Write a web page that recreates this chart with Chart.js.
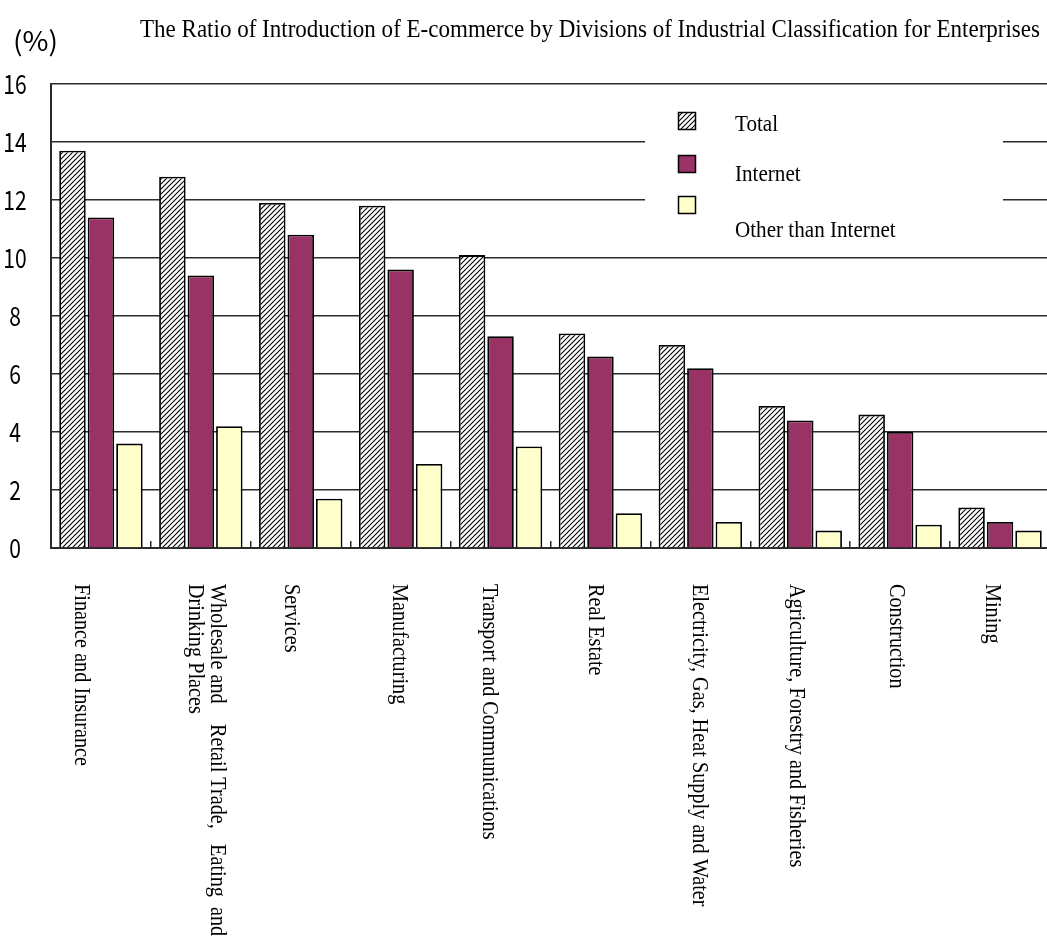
<!DOCTYPE html>
<html>
<head>
<meta charset="utf-8">
<script src="https://cdn.jsdelivr.net/npm/chart.js"></script>
<style>
  html, body { margin: 0; padding: 0; background: #fff; overflow: hidden; }
  #wrap { width: 1060px; height: 941px; }
</style>
</head>
<body>
<div id="wrap"><canvas id="chart" width="1060" height="941"></canvas></div>
<script>
// data
const categories = [
  'Finance and Insurance',
  ['Wholesale and    Retail Trade,   Eating  and', 'Drinking Places'],
  'Services',
  'Manufacturing',
  'Transport and Communications',
  'Real Estate',
  'Electricity, Gas, Heat Supply and Water',
  'Agriculture, Forestry and Fisheries',
  'Construction',
  'Mining'
];
const totalValues    = [13.7, 12.8, 11.9, 11.8, 10.1, 7.4, 7.0, 4.9, 4.6, 1.4];
const internetValues = [11.4,  9.4, 10.8,  9.6,  7.3, 6.6, 6.2, 4.4, 4.0, 0.9];
const otherValues    = [ 3.6,  4.2,  1.7,  2.9,  3.5, 1.2, 0.9, 0.6, 0.8, 0.6];
const seriesNames = ['Total', 'Internet', 'Other than Internet'];
const yTicks = [0, 2, 4, 6, 8, 10, 12, 14, 16];
const chartTitle = 'The Ratio of Introduction of E-commerce by Divisions of Industrial Classification for Enterprises';
const unitLabel = '(%)';

// layout bits
const SERIF = '"Liberation Serif", "Times New Roman", serif';
const DIGITS = '"Noto Sans CJK JP", "DejaVu Sans Mono", monospace';
const SQUEEZE = 0.88;
const labelShift = [-26, 10, -16, -8, -18, -11, -7, -10, -10, -14];

const canvas = document.getElementById('chart');
const ctx = canvas.getContext('2d');

// "////" hatch for the Total bars
function makeHatch() {
  const n = 5;
  const c = document.createElement('canvas');
  c.width = n; c.height = n;
  const g = c.getContext('2d');
  g.fillStyle = '#fff';
  g.fillRect(0, 0, n, n);
  g.strokeStyle = '#000';
  g.lineWidth = 1.1;
  g.beginPath();
  g.moveTo(-1, n + 1); g.lineTo(n + 1, -1);
  g.moveTo(-1, 1); g.lineTo(1, -1);
  g.moveTo(n - 1, n + 1); g.lineTo(n + 1, n - 1);
  g.stroke();
  return ctx.createPattern(c, 'repeat');
}
const hatch = makeHatch();
const fills = [hatch, '#993366', '#ffffcc'];

// text squeezed horizontally (along its own direction)
function squeezed(c, text, x, y, sx) {
  c.save();
  c.translate(x, y);
  c.scale(sx, 1);
  c.fillText(text, 0, 0);
  c.restore();
}
function fitted(c, text, x, y, width) {
  const w = c.measureText(text).width;
  squeezed(c, text, x, y, width / w);
}

const decorations = {
  id: 'decorations',
  afterDraw(chart) {
    const c = chart.ctx;
    const xs = chart.scales.x;
    const ys = chart.scales.y;
    c.save();
    c.fillStyle = '#000';

    // title and unit
    c.font = '25px ' + SERIF;
    c.textBaseline = 'alphabetic';
    c.textAlign = 'left';
    fitted(c, chartTitle, 140, 37, 900);
    c.font = '27px ' + DIGITS;
    c.textBaseline = 'middle';
    fitted(c, unitLabel, 13, 41, 45);

    // y tick labels
    ys.ticks.forEach(t => {
      const y = ys.getPixelForValue(t.value);
      const s = String(t.value);
      const w = c.measureText(s).width * 0.78;
      squeezed(c, s, 15 - w / 2, y, 0.78);
    });

    // rotated category labels, reading top to bottom
    c.font = '23px ' + SERIF;
    c.textBaseline = 'alphabetic';
    categories.forEach((lab, i) => {
      const lines = Array.isArray(lab) ? lab : [lab];
      const cx = xs.getPixelForValue(i) + labelShift[i];
      lines.forEach((ln, k) => {
        c.save();
        c.translate(cx - k * 22, 584);
        c.rotate(Math.PI / 2);
        c.scale(SQUEEZE, 1);
        c.fillText(ln, 0, 0);
        c.restore();
      });
    });

    // legend panel
    c.fillStyle = '#fff';
    c.fillRect(645, 95, 358, 155);
    const boxY = [112, 155, 196];
    const textY = [131, 181, 237];
    c.font = '24px ' + SERIF;
    seriesNames.forEach((name, i) => {
      c.fillStyle = fills[i];
      c.fillRect(678, boxY[i], 18, 18);
      c.strokeStyle = '#000';
      c.lineWidth = 1.5;
      c.strokeRect(678.5, boxY[i] + 0.5, 17, 17);
      c.fillStyle = '#000';
      squeezed(c, name, 735, textY[i], SQUEEZE);
    });
    c.restore();
  }
};

new Chart(ctx, {
  type: 'bar',
  data: {
    labels: categories,
    datasets: seriesNames.map((name, i) => ({
      label: name,
      data: [totalValues, internetValues, otherValues][i],
      backgroundColor: fills[i],
      borderColor: '#000',
      borderWidth: 1.8,
      categoryPercentage: 0.855,
      barPercentage: 0.93
    }))
  },
  options: {
    responsive: false,
    animation: false,
    layout: { padding: { top: 84, bottom: 393, left: 0, right: 10 } },
    plugins: {
      legend: { display: false },
      title: { display: false },
      tooltip: { enabled: false }
    },
    scales: {
      x: {
        ticks: { display: false },
        grid: { drawOnChartArea: false, drawTicks: true, tickLength: -7, color: '#2b2b2b', lineWidth: 1.5 },
        border: { display: true, color: '#2b2b2b', width: 2 },
        afterFit: s => { s.height = 0; }
      },
      y: {
        min: 0,
        max: 16,
        afterBuildTicks: s => { s.ticks = yTicks.map(v => ({ value: v })); },
        ticks: { display: false },
        grid: { color: '#2b2b2b', lineWidth: 1.6, drawTicks: false },
        border: { display: true, color: '#2b2b2b', width: 2 },
        afterFit: s => { s.width = 51; }
      }
    }
  },
  plugins: [decorations]
});
</script>
</body>
</html>
